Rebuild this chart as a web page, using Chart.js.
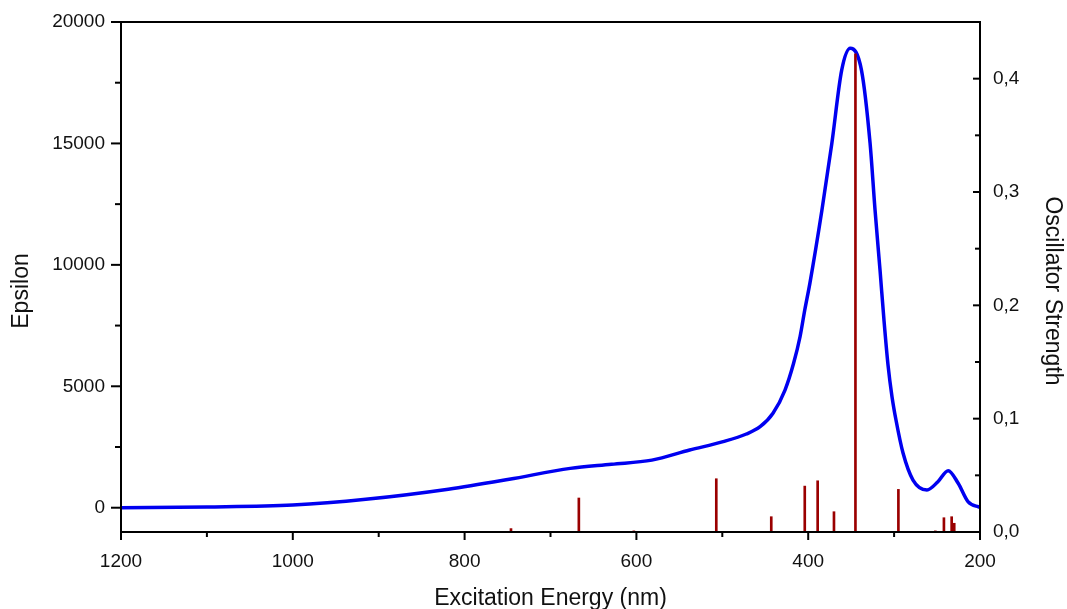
<!DOCTYPE html>
<html>
<head>
<meta charset="utf-8">
<title>Excitation spectrum</title>
<script src="https://cdn.jsdelivr.net/npm/chart.js@4"></script>
<style>
    html, body { margin: 0; padding: 0; background: #fff; }
    #wrap { width: 1067px; height: 609px; }
</style>
</head>
<body>
<div id="wrap"><canvas id="spectrum"></canvas></div>
<script>
// Data

// Calculated absorption curve (wavelength nm -> epsilon)
const curveNm = [1200, 1100, 1000, 915, 819, 748, 677, 629, 582, 538, 499, 472, 456, 441, 427, 417, 409.5, 404, 398,
    384, 372.5, 361, 351, 338, 328, 322.2, 316.4, 311.8, 307.1, 302.4, 297.8, 289.6, 278, 261.7, 249, 237, 225.4, 214, 202, 200];
const curveEps = [0, 30, 110, 345, 760, 1170, 1620, 1790, 1960, 2375, 2720, 3035, 3335, 3890, 4845, 5945, 7040, 8140, 9250,
    12260, 15000, 18020, 18920, 18020, 15020, 12260, 9790, 7730, 5880, 4560, 3610, 2250, 1140, 730, 1070, 1525, 1005, 250, 40, 30];

// Transitions (wavelength nm -> oscillator strength)
const stickNm = [746, 667, 603, 507, 479, 443, 404, 389, 370, 345, 295, 252, 242, 233, 230];
const stickF = [0.003, 0.030, 0.001, 0.047, 0.0005, 0.0135, 0.0405, 0.0452, 0.0179, 0.422, 0.0376, 0.001, 0.0126, 0.0135, 0.0077];

// Axis ticks
const xTicks = [1200, 1000, 800, 600, 400, 200];
const epsTicks = [0, 5000, 10000, 15000, 20000];
const oscTicks = [0, 0.1, 0.2, 0.3, 0.4];

const FONT = "'Liberation Sans', Arial, sans-serif";
const tickFont = { family: FONT, size: 19 };
const titleFont = { family: FONT, size: 23 };

// Frame, major/minor tick marks and the two vertical axis titles, Origin style
const frameTicks = {
    id: 'frameTicks',
    afterDraw(chart) {
        const { ctx, chartArea: a, scales } = chart;
        ctx.save();
        ctx.strokeStyle = '#000';
        ctx.lineWidth = 2;
        ctx.strokeRect(a.left, a.top, a.right - a.left, a.bottom - a.top);

        const line = (x1, y1, x2, y2) => {
            ctx.beginPath();
            ctx.moveTo(x1, y1);
            ctx.lineTo(x2, y2);
            ctx.stroke();
        };

        // bottom: every 100 nm, outward
        for (let v = 200; v <= 1200; v += 100) {
            const px = scales.x.getPixelForValue(v);
            line(px, a.bottom, px, a.bottom + (v % 200 === 0 ? 8 : 5));
        }
        // left: every 2500, outward
        for (let v = 0; v <= 20000; v += 2500) {
            const py = scales.y.getPixelForValue(v);
            line(a.left, py, a.left - (v % 5000 === 0 ? 10 : 6), py);
        }
        // right: every 0.05, inward
        for (let i = 0; i <= 8; i++) {
            const py = scales.y2.getPixelForValue(i * 0.05);
            line(a.right, py, a.right - (i % 2 === 0 ? 7 : 5), py);
        }

        // axis titles sit a little below the plot centre in the original
        ctx.fillStyle = '#111';
        ctx.font = `${titleFont.size}px ${FONT}`;
        ctx.textAlign = 'center';
        ctx.textBaseline = 'middle';
        const midY = (a.top + a.bottom) / 2 + 14;

        ctx.save();
        ctx.translate(22, midY);
        ctx.rotate(-Math.PI / 2);
        ctx.fillText('Epsilon', 0, 0);
        ctx.restore();

        ctx.save();
        ctx.translate(1052, midY);
        ctx.rotate(Math.PI / 2);
        ctx.fillText('Oscillator Strength', 0, 0);
        ctx.restore();

        ctx.restore();
    }
};

new Chart(document.getElementById('spectrum'), {
    type: 'bar',
    data: {
        datasets: [
            {
                type: 'bar',
                label: 'Oscillator Strength',
                data: stickNm.map((nm, i) => ({ x: nm, y: stickF[i] })),
                yAxisID: 'y2',
                backgroundColor: '#9a0000',
                barThickness: 2,
                order: 0
            },
            {
                type: 'line',
                label: 'Epsilon',
                data: curveNm.map((nm, i) => ({ x: nm, y: curveEps[i] })),
                yAxisID: 'y',
                borderColor: '#0000f0',
                borderWidth: 3.5,
                pointRadius: 0,
                fill: false,
                cubicInterpolationMode: 'monotone',
                order: 1
            }
        ]
    },
    options: {
        responsive: true,
        maintainAspectRatio: false,
        animation: false,
        layout: { padding: { top: 22, left: 0, right: 0, bottom: 0 } },
        plugins: {
            legend: { display: false },
            tooltip: { enabled: false }
        },
        scales: {
            x: {
                type: 'linear',
                reverse: true,
                min: 200,
                max: 1200,
                offset: false,
                grid: { display: false },
                border: { display: false },
                afterBuildTicks: s => { s.ticks = xTicks.map(v => ({ value: v })); },
                afterFit: s => { s.height = 77; },
                ticks: { color: '#111', font: tickFont, padding: 10, maxRotation: 0, callback: v => String(v) },
                title: {
                    display: true,
                    text: 'Excitation Energy (nm)',
                    color: '#111',
                    font: titleFont,
                    padding: { top: 0, bottom: -3 }
                }
            },
            y: {
                type: 'linear',
                position: 'left',
                min: -1000,
                max: 20000,
                grid: { display: false },
                border: { display: false },
                afterBuildTicks: s => { s.ticks = epsTicks.map(v => ({ value: v })); },
                afterFit: s => { s.width = 121; },
                ticks: { color: '#111', font: tickFont, padding: 8, callback: v => String(v) }
            },
            y2: {
                type: 'linear',
                position: 'right',
                min: 0,
                max: 0.45,
                grid: { display: false },
                border: { display: false },
                afterBuildTicks: s => { s.ticks = oscTicks.map(v => ({ value: v })); },
                afterFit: s => { s.width = 87; },
                ticks: {
                    color: '#111',
                    font: tickFont,
                    padding: 5,
                    callback: v => v.toFixed(1).replace('.', ',')
                }
            }
        }
    },
    plugins: [frameTicks]
});
</script>
</body>
</html>
